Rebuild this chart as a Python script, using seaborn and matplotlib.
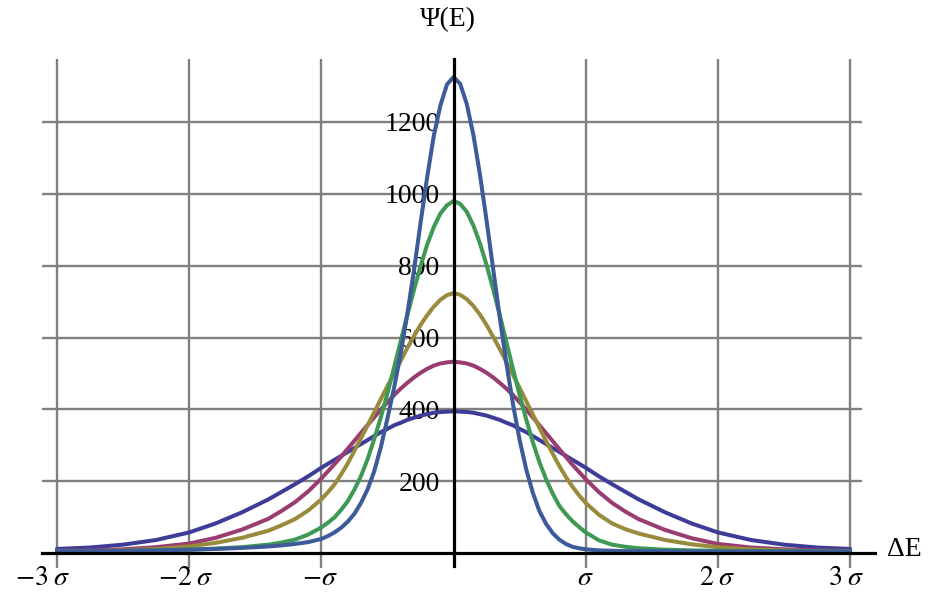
import numpy as np
import pandas as pd
import matplotlib
matplotlib.use("Agg")
import matplotlib.pyplot as plt
import seaborn as sns

# ---- data (x in units of sigma, y = Psi(E)) ----
X_LEFT = [-3.0, -2.75, -2.5, -2.25, -2.0, -1.8, -1.6, -1.4, -1.3, -1.2, -1.1, -1.0,
          -0.95, -0.9, -0.85, -0.8, -0.75, -0.7, -0.65, -0.6, -0.55, -0.5, -0.45, -0.4,
          -0.35, -0.3, -0.25, -0.2, -0.15, -0.1, -0.05]
X_RIGHT = [0.05, 0.1, 0.15, 0.2, 0.25, 0.3, 0.35, 0.4, 0.45, 0.5, 0.55, 0.6, 0.65, 0.7,
           0.75, 0.8, 0.85, 0.9, 0.95, 1.0, 1.1, 1.2, 1.3, 1.4, 1.6, 1.8, 2.0, 2.25, 2.5,
           2.75, 3.0]
X = X_LEFT + [0.0] + X_RIGHT

curve1 = ([12, 16, 24, 37, 58, 83, 114, 150, 171, 192, 214, 238, 249, 260, 271, 282, 293,
           304, 315, 326, 337, 346, 356, 363, 371, 377, 383, 387, 391, 393, 394]
          + [395]
          + [394, 393, 391, 387, 383, 377, 371, 363, 356, 346, 337, 326, 315, 304, 293, 282,
             271, 260, 249, 238, 214, 192, 171, 150, 114, 83, 58, 37, 24, 16, 12])
curve2 = ([7, 8, 11, 17, 27, 43, 66, 96, 118, 142, 172, 208, 228, 248, 269, 291, 313, 335,
           357, 378, 400, 420, 440, 458, 474, 489, 502, 513, 522, 528, 531]
          + [533]
          + [531, 528, 522, 513, 502, 489, 474, 458, 440, 420, 400, 378, 356, 334, 312, 290,
             268, 246, 226, 206, 170, 140, 116, 95, 65, 42, 26, 16, 11, 8, 7])
curve3 = ([5, 6, 8, 12, 19, 29, 43, 63, 78, 95, 119, 150, 170, 192, 220, 250, 285, 320,
           356, 392, 429, 465, 500, 535, 571, 604, 635, 662, 686, 705, 718]
          + [724]
          + [719, 707, 688, 664, 635, 602, 568, 532, 496, 460, 423, 386, 349, 312, 277, 243,
             212, 185, 161, 140, 107, 83, 67, 55, 37, 25, 17, 11, 8, 6, 5])
curve4 = ([5, 6, 7, 8, 10, 13, 17, 24, 30, 38, 52, 72, 85, 100, 121, 145, 177, 215, 262,
           318, 378, 445, 516, 590, 662, 732, 798, 858, 907, 945, 968]
          + [980]
          + [972, 950, 912, 862, 802, 734, 662, 587, 512, 440, 372, 309, 253, 206, 166, 132,
             109, 89, 73, 58, 36, 24, 18, 14, 10, 8, 7, 6, 6, 5, 5])
curve5 = ([5, 6, 7, 8, 10, 12, 15, 19, 22, 26, 31, 40, 48, 58, 71, 88, 110, 140, 178, 228,
           295, 375, 460, 555, 665, 785, 918, 1045, 1160, 1245, 1304]
          + [1325]
          + [1306, 1250, 1164, 1053, 925, 790, 655, 528, 414, 315, 233, 168, 117, 82, 56, 38,
             26, 18, 14, 11, 8, 7, 6, 6, 6, 5, 5, 5, 5, 5, 5])

CURVES = ["c1", "c2", "c3", "c4", "c5"]
COLORS = ["#3D3D99", "#993D71", "#998B3D", "#3D9954", "#3D5A99"]

Y_MAJOR = [200, 400, 600, 800, 1000, 1200]
Y_MINOR = [v for v in range(50, 1400, 50) if v % 200 != 0]
X_TICKS = [-3, -2, -1, 1, 2, 3]
X_LABELS = [r"$-3\;\sigma$", r"$-2\;\sigma$", r"$-\sigma$", r"$\sigma$", r"$2\;\sigma$", r"$3\;\sigma$"]
X_LABEL_POS = [-3.11, -2.03, -1.01, 1.0, 1.99, 2.97]

df = pd.DataFrame({
    "x": X * 5,
    "y": curve1 + curve2 + curve3 + curve4 + curve5,
    "curve": sum([[c] * len(X) for c in CURVES], []),
})

sns.set_style("white")
plt.rcParams["font.family"] = ["Liberation Serif", "DejaVu Serif"]
plt.rcParams["mathtext.fontset"] = "stix"
plt.rcParams["text.color"] = "black"
plt.rcParams["ytick.labelcolor"] = "black"
plt.rcParams["xtick.labelcolor"] = "black"

W, H = 943, 592
fig = plt.figure(figsize=(W / 100, H / 100), dpi=100)
ax = fig.add_axes([42 / W, (H - 570) / H, 833 / W, 511 / H])

XMIN, XMAX = -3.113, 3.188
YMIN, YMAX = -46.5, 1375
ax.set_xlim(XMIN, XMAX)
ax.set_ylim(YMIN, YMAX)

grid_c = "#808080"
ax.hlines(Y_MAJOR, XMIN, 3.09, color=grid_c, lw=1.7, zorder=0.5)
ax.vlines(X_TICKS, -40, YMAX, color=grid_c, lw=1.7, zorder=0.5)

sns.lineplot(data=df, x="x", y="y", hue="curve", hue_order=CURVES,
             palette=dict(zip(CURVES, COLORS)), linewidth=2.9, sort=False,
             estimator=None, legend=False, ax=ax)
for ln in ax.lines:
    ln.set_solid_capstyle("round")
    ln.set_solid_joinstyle("round")
    ln.set_zorder(2)

# axes through the origin
for s in ["top", "right"]:
    ax.spines[s].set_visible(False)
ax.spines["left"].set_position(("data", 0))
ax.spines["bottom"].set_position(("data", 0))
ax.spines["left"].set_bounds(-35, YMAX)
ax.spines["bottom"].set_bounds(XMIN, XMAX)
for s in ["left", "bottom"]:
    ax.spines[s].set_linewidth(2.3)
    ax.spines[s].set_color("black")
    ax.spines[s].set_zorder(3)

ax.set_yticks(Y_MAJOR)
ax.set_yticklabels([str(v) for v in Y_MAJOR])
ax.set_yticks(Y_MINOR, minor=True)
ax.tick_params(axis="y", which="major", direction="in", length=6.5, width=1.8,
               pad=10, labelsize=20, color="black", labelcolor="black")
ax.tick_params(axis="y", which="minor", direction="in", length=4.3, width=1.8, color="black")
ax.set_xticks(X_TICKS)
ax.tick_params(axis="x", which="major", direction="in", length=7, width=1.8,
               labelbottom=False, color="black")
ax.set_xlabel("")
ax.set_ylabel("")

for pos, lab in zip(X_LABEL_POS, X_LABELS):
    ax.text(pos, -69, lab, ha="center", va="center", fontsize=20, color="black")

fig.text(448 / W, 1 - 20 / H, "Ψ(E)", ha="center", va="center", fontsize=20, color="black")
fig.text(887 / W, 1 - 550 / H, "ΔE", ha="left", va="center", fontsize=20, color="black")

fig.savefig("out.png", dpi=100)
